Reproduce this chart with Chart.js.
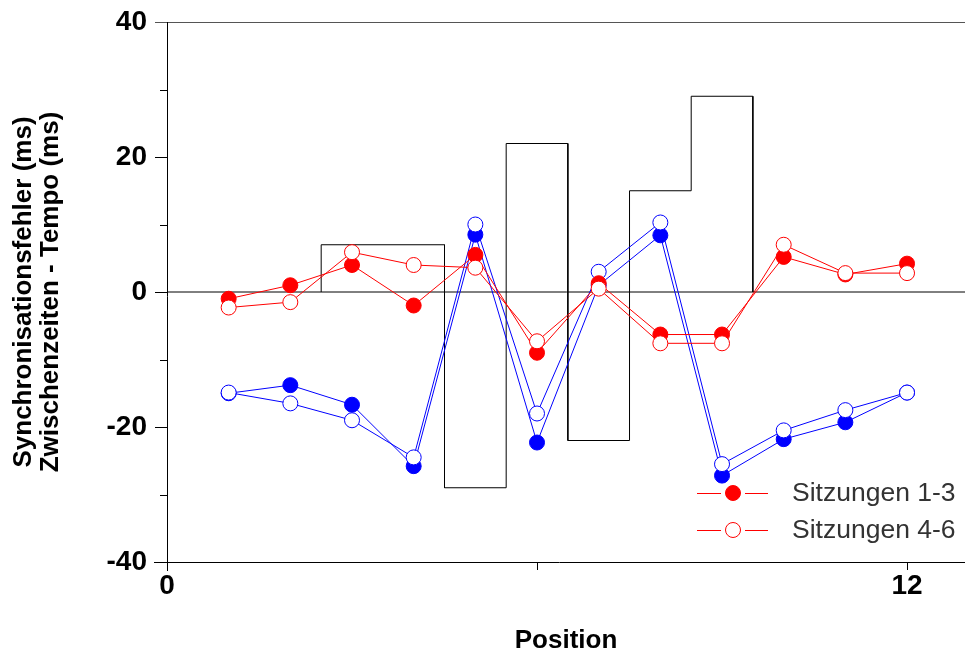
<!DOCTYPE html>
<html><head><meta charset="utf-8">
<script src="https://cdn.jsdelivr.net/npm/chart.js@4/dist/chart.umd.min.js"></script>
<style>html,body{margin:0;padding:0;background:#fff}#wrap{width:965px;height:656px}</style>
</head><body><div id="wrap"><canvas id="c" width="965" height="656"></canvas></div>
<script>
const positions = [1,2,3,4,5,6,7,8,9,10,11,12];
const redFilled = [-1, 1, 4, -2, 5.5, -9, 1.3, -6.3, -6.3, 5.2, 2.6, 4.2];
const redOpen   = [-2.3, -1.5, 5.9, 4, 3.6, -7.3, 0.5, -7.6, -7.6, 7, 2.8, 2.8];
const blueFilled = [-15, -13.8, -16.7, -25.8, 8.5, -22.3, 1, 8.4, -27.2, -21.8, -19.3, -14.9];
const blueOpen   = [-14.9, -16.5, -19, -24.5, 10, -18, 3, 10.3, -25.5, -20.5, -17.5, -14.9];
const stepEdges  = [2.5, 4.5, 5.5, 6.5, 7.5, 8.5, 9.5];
const stepValues = [7, -29, 22, -22, 15, 29];
const xTickLabels = [0, 12];
const legendLabels = ['Sitzungen 1-3', 'Sitzungen 4-6'];
const yTitle = ['Synchronisationsfehler (ms)', 'Zwischenzeiten - Tempo (ms)'];
const xTitle = 'Position';

const pts = ys => positions.map((x,i)=>({x, y: ys[i]}));
const stepPts = [{x: stepEdges[0], y: 0}];
stepValues.forEach((v,i)=>{ stepPts.push({x: stepEdges[i], y: v}); stepPts.push({x: stepEdges[i+1], y: v}); });
stepPts.push({x: stepEdges[stepEdges.length-1], y: 0});

const FONT = '"Liberation Sans", Arial, sans-serif';
const RED = '#ff0000', BLUE = '#0000ff';
function series(data, color, filled){
  return {data: pts(data), borderColor: color, borderWidth: 1, showLine: true,
    pointRadius: 7.5, pointBorderWidth: 1, pointBorderColor: color,
    pointBackgroundColor: filled ? color : '#ffffff', fill: false, tension: 0};
}

const framePlugin = {
  id: 'frame',
  afterDraw(chart){
    const {ctx, chartArea: a} = chart;
    const ys = chart.scales.y;
    ctx.save();
    ctx.lineWidth = 1;
    ctx.strokeStyle = '#555';
    ctx.beginPath(); ctx.moveTo(155, a.top + 0.5); ctx.lineTo(965, a.top + 0.5); ctx.stroke();
    ctx.strokeStyle = '#000';
    ctx.beginPath(); ctx.moveTo(154, a.bottom + 0.5); ctx.lineTo(965, a.bottom + 0.5); ctx.stroke();
    ctx.beginPath(); ctx.moveTo(a.left + 0.5, a.top); ctx.lineTo(a.left + 0.5, a.bottom + 9); ctx.stroke();
    // minor y ticks between the labelled ones
    const tv = ys.ticks.map(t => t.value);
    ctx.beginPath();
    for (let i = 0; i < tv.length - 1; i++) {
      const py = Math.round(ys.getPixelForValue((tv[i] + tv[i+1]) / 2)) + 0.5;
      ctx.moveTo(a.left - 7, py); ctx.lineTo(a.left, py);
    }
    ctx.stroke();
    // legend
    ctx.font = '26.5px ' + FONT;
    ctx.textBaseline = 'middle';
    const rows = [{y: 493, filled: true}, {y: 530, filled: false}];
    rows.forEach((r,i)=>{
      ctx.strokeStyle = RED; ctx.lineWidth = 1;
      ctx.beginPath(); ctx.moveTo(697, r.y + 0.5); ctx.lineTo(721, r.y + 0.5); ctx.stroke();
      ctx.beginPath(); ctx.moveTo(745, r.y + 0.5); ctx.lineTo(768, r.y + 0.5); ctx.stroke();
      ctx.beginPath(); ctx.arc(733, r.y, 7.5, 0, Math.PI*2);
      ctx.fillStyle = r.filled ? RED : '#fff'; ctx.fill(); ctx.stroke();
      ctx.fillStyle = '#333';
      ctx.fillText(legendLabels[i], 792, r.y + 1);
    });
    ctx.restore();
  }
};

new Chart(document.getElementById('c'), {
  type: 'scatter',
  data: { datasets: [
    series(redOpen, RED, false),
    series(redFilled, RED, true),
    series(blueOpen, BLUE, false),
    series(blueFilled, BLUE, true),
    {data: stepPts, borderColor: '#000', borderWidth: 1, showLine: true, pointRadius: 0, fill: false},
    {data: [{x: 0, y: 0}, {x: 13, y: 0}], borderColor: '#000', borderWidth: 1, showLine: true, pointRadius: 0, fill: false}
  ]},
  options: {
    responsive: false, animation: false,
    layout: {autoPadding: false, padding: {top: 22, right: 0, left: 0, bottom: 0}},
    plugins: {legend: {display: false}, tooltip: {enabled: false}},
    scales: {
      x: {
        type: 'linear', min: 0, max: 12.94,
        afterFit(s){ s.height = 94; s.paddingRight = 0; s.paddingLeft = 0; },
        afterBuildTicks(s){ s.ticks = [{value: 0}, {value: 6}, {value: 12}]; },
        ticks: {stepSize: 6, color: '#000', padding: -1, maxRotation: 0,
          font: {family: FONT, size: 28, weight: 'bold'},
          callback: v => xTickLabels.includes(v) ? String(v) : ''},
        grid: {drawOnChartArea: false, drawTicks: true, tickLength: 8, color: '#000'},
        border: {display: false},
        title: {display: true, text: xTitle, color: '#000', padding: {top: 0, bottom: 0},
          font: {family: FONT, size: 26, weight: 'bold', lineHeight: 1.2}}
      },
      y: {
        type: 'linear', min: -40, max: 40,
        afterFit(s){ s.width = 167; s.paddingTop = 0; s.paddingBottom = 0; },
        ticks: {stepSize: 20, color: '#000', padding: 8,
          font: {family: FONT, size: 28, weight: 'bold'}},
        grid: {drawOnChartArea: false, drawTicks: true, tickLength: 12, color: '#000'},
        border: {display: false},
        title: {display: true, text: yTitle, color: '#000', padding: {top: 10, bottom: 0},
          font: {family: FONT, size: 26, weight: 'bold', lineHeight: 1.04}}
      }
    }
  },
  plugins: [framePlugin]
});
</script></body></html>
